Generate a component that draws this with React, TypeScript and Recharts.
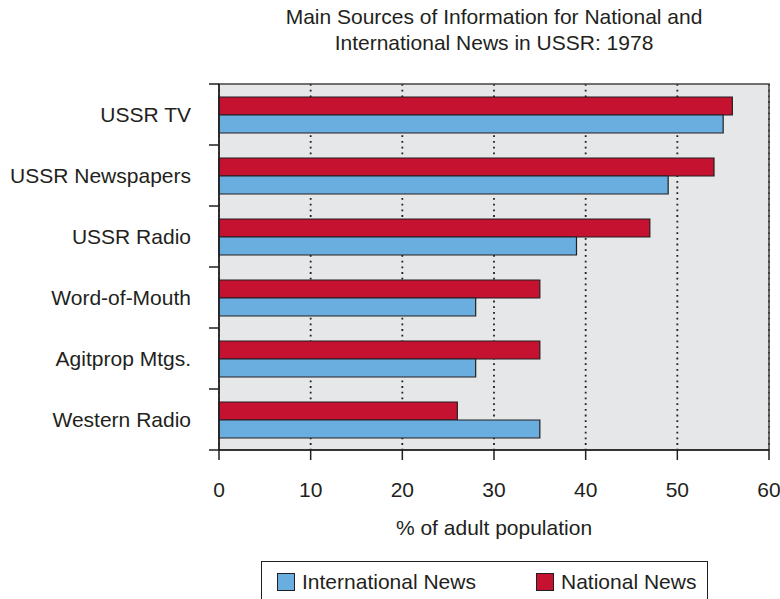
import React from 'react';
import {
  BarChart,
  Bar,
  XAxis,
  YAxis,
  CartesianGrid,
  ReferenceArea,
} from 'recharts';

const sources = [
  'USSR TV',
  'USSR Newspapers',
  'USSR Radio',
  'Word-of-Mouth',
  'Agitprop Mtgs.',
  'Western Radio',
];
const nationalNews = [56, 54, 47, 35, 35, 26];
const internationalNews = [55, 49, 39, 28, 28, 35];
const xTicks = [0, 10, 20, 30, 40, 50, 60];

const FONT = '"Liberation Sans", Arial, Helvetica, sans-serif';
const INK = '#231f20';
const RED = '#c41230';
const BLUE = '#6aaddf';
const PLOT_BG = '#e6e7e8';

const W = 780;
const H = 599;
const MARGIN = { top: 84, right: 11, left: 0, bottom: 99 };
const X_AXIS_H = 50;
const BAND = (H - MARGIN.top - MARGIN.bottom - X_AXIS_H) / sources.length;

const chartData = sources.map((name, i) => ({
  name,
  national: nationalNews[i],
  international: internationalNews[i],
}));

// label at band centre, tick marks on the band boundaries
function CategoryTick(props: any) {
  const { x, y, payload, index } = props;
  return (
    <g>
      <line x1={x - 10} x2={x} y1={y - BAND / 2} y2={y - BAND / 2} stroke={INK} strokeWidth={1.5} />
      {index === sources.length - 1 && (
        <line x1={x - 10} x2={x} y1={y + BAND / 2} y2={y + BAND / 2} stroke={INK} strokeWidth={1.5} />
      )}
      <text
        x={x - 28}
        y={y}
        dy={7.5}
        textAnchor="end"
        fill={INK}
        fontSize={21}
        fontFamily={FONT}
      >
        {payload.value}
      </text>
    </g>
  );
}

export default function App() {
  return (
    <div style={{ position: 'absolute', left: 0, top: 0, width: W, height: H, background: '#fff', fontFamily: FONT, color: INK }}>
      <div style={{ position: 'absolute', left: 219, width: 550, top: 4, textAlign: 'center', fontSize: 21, lineHeight: '26px' }}>
        Main Sources of Information for National and
        <br />
        International News in USSR: 1978
      </div>

      <BarChart
        width={W}
        height={H}
        data={chartData}
        layout="vertical"
        margin={MARGIN}
        barSize={18}
        barGap={0}
      >
        <CartesianGrid
          horizontal={false}
          fill={PLOT_BG}
          fillOpacity={1}
          stroke={INK}
          strokeWidth={1.8}
          strokeDasharray="1.8 3.9"
        />
        <XAxis
          type="number"
          domain={[0, 60]}
          ticks={xTicks}
          interval={0}
          height={X_AXIS_H}
          tickSize={10}
          tickMargin={22}
          axisLine={{ stroke: INK, strokeWidth: 1.5 }}
          tickLine={{ stroke: INK, strokeWidth: 1.5 }}
          tick={{ fill: INK, fontSize: 21, fontFamily: FONT }}
        />
        <YAxis
          type="category"
          dataKey="name"
          width={219}
          tickSize={0}
          tickMargin={0}
          tickLine={false}
          axisLine={{ stroke: INK, strokeWidth: 1.5 }}
          tick={<CategoryTick />}
          interval={0}
        />
        <Bar dataKey="national" name="National News" fill={RED} stroke={INK} strokeWidth={1.2} isAnimationActive={false} />
        <Bar dataKey="international" name="International News" fill={BLUE} stroke={INK} strokeWidth={1.2} isAnimationActive={false} />
        <ReferenceArea x1={0} x2={60} fill="none" stroke="#444" strokeWidth={1.5} ifOverflow="visible" />
      </BarChart>

      <div style={{ position: 'absolute', left: 395, width: 198, top: 515, textAlign: 'center', fontSize: 21, lineHeight: '26px', whiteSpace: 'nowrap' }}>
        % of adult population
      </div>

      <div style={{ position: 'absolute', left: 261, top: 561, width: 447, height: 60, border: `1.5px solid ${INK}`, boxSizing: 'border-box' }}>
        <div style={{ position: 'absolute', left: 15, top: 11, width: 16, height: 16, background: BLUE, border: `1.3px solid ${INK}` }} />
        <div style={{ position: 'absolute', left: 40, top: 7, fontSize: 21, lineHeight: '26px', whiteSpace: 'nowrap' }}>International News</div>
        <div style={{ position: 'absolute', left: 274, top: 11, width: 16, height: 16, background: RED, border: `1.3px solid ${INK}` }} />
        <div style={{ position: 'absolute', left: 299, top: 7, fontSize: 21, lineHeight: '26px', whiteSpace: 'nowrap' }}>National News</div>
      </div>
    </div>
  );
}
